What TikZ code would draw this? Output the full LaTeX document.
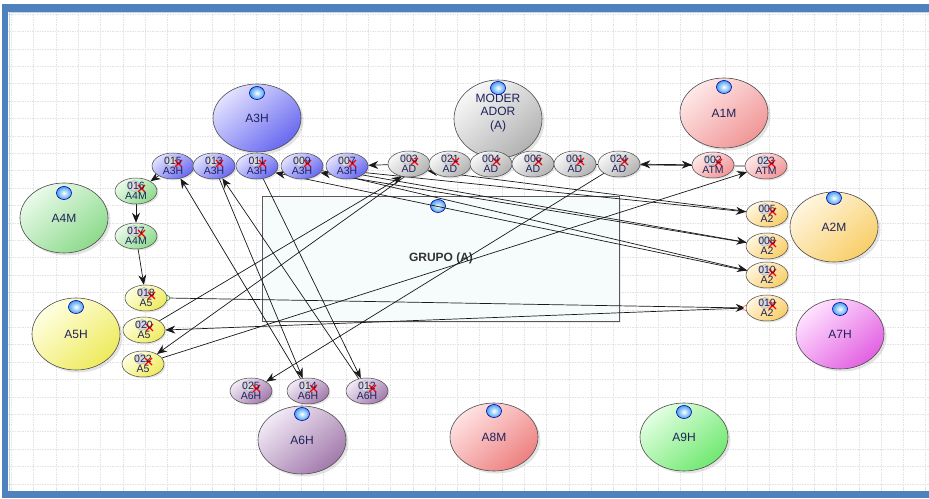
\documentclass[tikz,border=0pt]{standalone}
\usepackage{fontspec}
\setmainfont{Liberation Sans}
\usetikzlibrary{shapes.geometric,arrows.meta,shadows}

\definecolor{frameblue}{RGB}{79,129,189}
\definecolor{navy}{RGB}{30,34,90}
% shading pairs (light, dark)
\definecolor{bluL}{RGB}{226,226,255}\definecolor{bluD}{RGB}{104,104,240}
\definecolor{gryL}{RGB}{248,248,248}\definecolor{gryD}{RGB}{178,178,178}
\definecolor{pnkL}{RGB}{255,232,232}\definecolor{pnkD}{RGB}{240,150,150}
\definecolor{grnL}{RGB}{234,250,234}\definecolor{grnD}{RGB}{140,218,140}
\definecolor{orgL}{RGB}{255,246,224}\definecolor{orgD}{RGB}{248,206,104}
\definecolor{yelL}{RGB}{255,255,226}\definecolor{yelD}{RGB}{238,234,92}
\definecolor{magL}{RGB}{255,226,255}\definecolor{magD}{RGB}{226,96,226}
\definecolor{purL}{RGB}{242,234,246}\definecolor{purD}{RGB}{162,122,172}
\definecolor{redL}{RGB}{255,226,226}\definecolor{redD}{RGB}{238,128,128}
\definecolor{lgrL}{RGB}{226,255,226}\definecolor{lgrD}{RGB}{112,232,112}
\definecolor{groupfill}{RGB}{246,252,252}
\definecolor{ballblue}{RGB}{70,160,240}

\pgfdeclarelayer{bg}
\pgfdeclarelayer{edges}
\pgfsetlayers{bg,edges,main}

\tikzset{
  gridline/.style={gray!22, line width=0.45pt, dash pattern=on 1.6pt off 0.9pt},
  grad/.style 2 args={top color=#1, bottom color=#2, shading angle=40},
  fblue/.style={grad={bluL}{bluD}},
  fgrey/.style={grad={gryL}{gryD}},
  fpink/.style={grad={pnkL}{pnkD}},
  fgreen/.style={grad={grnL}{grnD}},
  forange/.style={grad={orgL}{orgD}},
  fyellow/.style={grad={yelL}{yelD}},
  fmagenta/.style={grad={magL}{magD}},
  fpurple/.style={grad={purL}{purD}},
  fred/.style={grad={redL}{redD}},
  flime/.style={grad={lgrL}{lgrD}},
  bignode/.style={ellipse, draw=black!70, line width=0.6pt,
    minimum width=88pt, minimum height=68pt, inner sep=0pt,
    font=\fontsize{12}{13.5}\selectfont, text=navy,
    drop shadow={opacity=0.22, shadow xshift=2.5pt, shadow yshift=-2.5pt}},
  bigtext/.style={inner sep=0pt, align=center, text=navy,
    font=\fontsize{12}{13.5}\selectfont},
  ball/.style={ellipse, minimum width=15pt, minimum height=13pt, inner sep=0pt,
    inner color=white, outer color=ballblue, draw=blue!65!black, line width=0.6pt},
  smallnode/.style={ellipse, draw=black!70, line width=0.5pt,
    minimum width=42pt, minimum height=26pt, inner sep=0pt, align=center,
    text=navy, font=\fontsize{10.5}{10.5}\selectfont,
    drop shadow={opacity=0.2, shadow xshift=1.5pt, shadow yshift=-1.5pt},
    path picture={
      \fill[gray!30, draw=gray!65, line width=0.4pt]
        ([xshift=-2pt,yshift=5pt]path picture bounding box.center) circle (5.5pt);
      \draw[red, line width=1.1pt]
        ([xshift=2pt,yshift=-1pt]path picture bounding box.center) -- ++(7pt,7pt)
        ([xshift=2pt,yshift=6pt]path picture bounding box.center) -- ++(7pt,-7pt);
    }},
  arr/.style={-{Stealth[length=10pt,width=8pt]}, line width=0.7pt, black!90},
  darr/.style={{Stealth[length=10pt,width=8pt]}-{Stealth[length=10pt,width=8pt]},
    line width=0.7pt, black!90},
}

\begin{document}
\begin{tikzpicture}[x=1pt,y=1pt]
\useasboundingbox (0,0) rectangle (929,498);

% canvas, grid and frame
\begin{pgfonlayer}{bg}
  \fill[white] (0,0) rectangle (929,498);
  \foreach \i in {0,...,41}
    \draw[gridline] ({11.4+22.3*\i},7) -- ({11.4+22.3*\i},486);
  \foreach \j in {0,...,27}
    \draw[gridline] (7,{484-17.4*\j}) -- (929,{484-17.4*\j});
  \fill[frameblue] (2,0) rectangle (929,7);
  \fill[frameblue] (2,0) rectangle (8,494);
  \fill[frameblue] (2,486) rectangle (929,494);
  \draw[frameblue!35, line width=0.8pt] (9,7.5) -- (9,485.5) -- (929,485.5);

  % group box
  \node[draw=black!65, line width=0.6pt, fill=groupfill, minimum width=357pt,
        minimum height=125pt, inner sep=0pt,
        drop shadow={opacity=0.15, shadow xshift=2pt, shadow yshift=-2pt}]
        (grupo) at (440.5,239.5) {};
  \node[font=\bfseries\fontsize{12}{14}\selectfont, text=black!80] (grupotxt)
        at (441,240) {GRUPO (A)};
  \node[ball] (bgrupo) at (438,292) {};
\end{pgfonlayer}

% large actor nodes
\node[bignode,fblue] (a3h) at (257,380) {A3H};
\node[bignode,fgrey,minimum height=78pt] (mod) at (498,379) {};
\node[bigtext] (modtxt) at (498,385) {MODER\\ADOR\\(A)};
\node[bignode,fpink,minimum height=70pt] (a1m) at (724,385) {A1M};
\node[bignode,fgreen,minimum height=70pt] (a4m) at (64,280) {A4M};
\node[bignode,forange,minimum height=70pt] (a2m) at (834,271) {A2M};
\node[bignode,fyellow,minimum height=72pt] (a5h) at (76,164) {A5H};
\node[bignode,fmagenta,minimum height=70pt] (a7h) at (840,164) {A7H};
\node[bignode,fpurple] (a6h) at (302,58) {A6H};
\node[bignode,fred] (a8m) at (494,61) {A8M};
\node[bignode,flime] (a9h) at (684,61) {A9H};

\node[ball] (b3h) at (257,405) {};
\node[ball] (bmod) at (498,410) {};
\node[ball] (b1m) at (724,411) {};
\node[ball] (b4m) at (64,305) {};
\node[ball] (b2m) at (834,300) {};
\node[ball] (b5h) at (76,191) {};
\node[ball] (b7h) at (840,189) {};
\node[ball] (b6h) at (302,84) {};
\node[ball] (b8m) at (494,87) {};
\node[ball] (b9h) at (684,86) {};

% small task nodes: A3H row
\node[smallnode,fblue] (n015) at (173,332) {015\\A3H};
\node[smallnode,fblue] (n013) at (214,332) {013\\A3H};
\node[smallnode,fblue] (n011) at (257,332) {011\\A3H};
\node[smallnode,fblue] (n009) at (302,332) {009\\A3H};
\node[smallnode,fblue] (n007) at (347,332) {007\\A3H};
% AD row
\node[smallnode,fgrey] (n003) at (409,334) {003\\AD};
\node[smallnode,fgrey] (n021) at (450,334) {021\\AD};
\node[smallnode,fgrey] (n004) at (491,334) {004\\AD};
\node[smallnode,fgrey] (n006) at (533,334) {006\\AD};
\node[smallnode,fgrey] (n001) at (575,334) {001\\AD};
\node[smallnode,fgrey] (n024) at (619,334) {024\\AD};
% ATM
\node[smallnode,fpink] (n002) at (713,333) {002\\ATM};
\node[smallnode,fpink] (n023) at (766,332) {023\\ATM};
% A4M column
\node[smallnode,fgreen] (n016) at (136,307) {016\\A4M};
\node[smallnode,fgreen] (n017) at (136,262) {017\\A4M};
% A5 column
\node[smallnode,fyellow] (n018) at (146,200) {018\\A5};
\node[smallnode,fyellow] (n020) at (144,168) {020\\A5};
\node[smallnode,fyellow] (n022) at (143,134) {022\\A5};
% A6H row
\node[smallnode,fpurple] (n025) at (251,107) {025\\A6H};
\node[smallnode,fpurple] (n014) at (308,107) {014\\A6H};
\node[smallnode,fpurple] (n012) at (367,107) {012\\A6H};
% A2 column
\node[smallnode,forange] (n005) at (767,284) {005\\A2};
\node[smallnode,forange] (n008) at (767,252) {008\\A2};
\node[smallnode,forange] (n010) at (767,223) {010\\A2};
\node[smallnode,forange] (n019) at (767,190) {019\\A2};

% connectors
\begin{pgfonlayer}{edges}
  \draw[arr] (n015) -- (n016);
  \draw[arr] (n016) -- (n017);
  \draw[arr] (n017) -- (n018);
  \draw[arr] (n018.east) -- (n019.west);
  \fill[white, draw=green!55!black, line width=0.5pt] (n018.east) circle (2.5pt);
  \draw[arr] (n019.west) -- (n020.east);
  \fill[white, draw=red!70, line width=0.5pt] (n019.west) circle (2.5pt);
  \draw[arr] (n020) -- (n003.-120);
  \draw[arr] (n003.-110) -- (n022);
  \draw[arr] (n022) -- (n023);
  \draw[arr] (n024) -- (n025);
  \draw[arr] (n003) -- (n007);
  \draw[darr] (n024) -- (n002);
  \draw[arr] (n023.west) -- (n006.east);
  \draw[arr] (n004) -- (n006);
  \draw[arr] (n005) -- (n003.-20);
  \draw[arr] (n007.-20) -- (n005);
  \draw[arr] (n007.-30) -- (n008);
  \draw[arr] (n009) -- (n010);
  \draw[arr] (n010) -- (n011.-20);
  \draw[arr] (n008) -- (n009.-20);
  \draw[arr] (n014) -- (n015);
  \draw[arr] (n013) -- (n014);
  \draw[arr] (n012) -- (n013);
  \draw[arr] (n011) -- (n012);
\end{pgfonlayer}
\end{tikzpicture}
\end{document}
